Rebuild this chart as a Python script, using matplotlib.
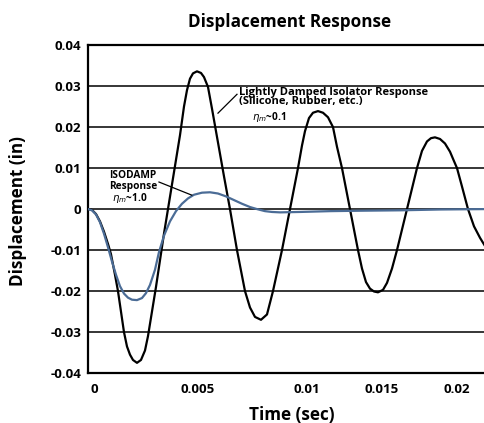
import matplotlib
matplotlib.use("Agg")
import matplotlib.pyplot as plt

plt.rcParams['font.family'] = ['Open Sans', 'DejaVu Sans']

# ---- data (time in s, displacement in in) ----
black_t = [0, 0.0002, 0.0004, 0.0006, 0.0008, 0.0010, 0.00115, 0.00135, 0.0015, 0.00165,
           0.0018, 0.00195, 0.0021, 0.00225, 0.00245, 0.00265, 0.00285, 0.0030, 0.0032, 0.0034,
           0.0036, 0.0038, 0.0040, 0.0042, 0.0044, 0.0046, 0.0048, 0.00495, 0.0051, 0.00525,
           0.00545, 0.00565, 0.0058, 0.0060, 0.0062, 0.0064, 0.0066, 0.0068, 0.0071, 0.00745,
           0.00785, 0.0081, 0.00835, 0.00865, 0.00895, 0.00925, 0.0097, 0.0101, 0.0103, 0.0105,
           0.0107, 0.01085, 0.01105, 0.01125, 0.0115, 0.01175, 0.0120, 0.01225, 0.01245, 0.0127,
           0.0129, 0.0131, 0.0133, 0.0135, 0.0137, 0.0139, 0.0141, 0.0143, 0.0145, 0.01475,
           0.01495, 0.0152, 0.01545, 0.0157, 0.01595, 0.0162, 0.01645, 0.0167, 0.01695, 0.01715,
           0.01735, 0.0176, 0.01785, 0.0181, 0.0183, 0.01845, 0.0187, 0.0190, 0.0193, 0.0196,
           0.01985]
black_d = [0, -0.0002, -0.0012, -0.003, -0.0055, -0.0085, -0.011, -0.016, -0.020, -0.025,
           -0.030, -0.0335, -0.0355, -0.0368, -0.0375, -0.0368, -0.0345, -0.031, -0.025, -0.019,
           -0.0125, -0.006, 0.0, 0.006, 0.012, 0.018, 0.025, 0.029, 0.0318, 0.0331,
           0.0336, 0.0332, 0.0322, 0.0298, 0.0245, 0.019, 0.0135, 0.008, 0.0, -0.010,
           -0.020, -0.024, -0.0263, -0.027, -0.0257, -0.020, -0.010, 0.0, 0.005, 0.010,
           0.0155, 0.019, 0.0222, 0.0235, 0.0239, 0.0235, 0.0224, 0.020, 0.0152, 0.010,
           0.005, 0.0, -0.005, -0.010, -0.0145, -0.0178, -0.0194, -0.0201, -0.0203, -0.0197,
           -0.0180, -0.0145, -0.010, -0.005, 0.0, 0.005, 0.010, 0.0142, 0.0165, 0.0173,
           0.0175, 0.0171, 0.0160, 0.0140, 0.0117, 0.0100, 0.0055, 0.0, -0.0042, -0.0070,
           -0.0090]

blue_t = [0, 0.0002, 0.0004, 0.0006, 0.0008, 0.0010, 0.0012, 0.0014, 0.0016, 0.0018,
          0.0020, 0.0022, 0.00245, 0.0027, 0.0029, 0.0031, 0.00335, 0.00355, 0.0038, 0.0041,
          0.0044, 0.0047, 0.0050, 0.0053, 0.0057, 0.0061, 0.0065, 0.0069, 0.0073, 0.0077,
          0.0081, 0.00845, 0.00885, 0.0092, 0.0096, 0.0106, 0.0121, 0.0136, 0.0156, 0.0176,
          0.01985]
blue_d = [0, -0.0003, -0.0013, -0.0032, -0.006, -0.0093, -0.0128, -0.016, -0.0188, -0.0206,
          -0.0216, -0.0221, -0.0222, -0.0217, -0.0205, -0.0185, -0.0148, -0.0105, -0.0065, -0.003,
          -0.0005, 0.0013, 0.0026, 0.0035, 0.0040, 0.0041, 0.0038, 0.0031, 0.0022, 0.0013,
          0.0005, 0.0, -0.0005, -0.0007, -0.0008, -0.0007, -0.0005, -0.0004, -0.0003, -0.0001,
          0.0]

xtick_pos = [0.0003, 0.0055, 0.01095, 0.0147, 0.01845]
xtick_labels = ['0', '0.005', '0.01', '0.015', '0.02']
ytick_vals = [-0.04, -0.03, -0.02, -0.01, 0, 0.01, 0.02, 0.03, 0.04]
ytick_labels = ['-0.04', '-0.03', '-0.02', '-0.01', '0', '0.01', '0.02', '0.03', '0.04']

fig = plt.figure(figsize=(4.85, 4.23), dpi=100)
ax = fig.add_axes([0.1814, 0.118, 0.8186, 0.7754])

for v in ytick_vals[1:-1]:
    ax.axhline(v, color='black', lw=1.1, zorder=1)

ax.plot(black_t, black_d, color='black', lw=1.6, zorder=3, solid_joinstyle='round')
ax.plot(blue_t, blue_d, color='#4b6c96', lw=1.6, zorder=4, solid_joinstyle='round')

ax.set_xlim(0, 0.01985)
ax.set_ylim(-0.04, 0.04)
ax.set_xticks(xtick_pos)
ax.set_xticklabels(xtick_labels, fontweight='bold', fontsize=9.5)
ax.set_yticks(ytick_vals)
ax.set_yticklabels(ytick_labels, fontweight='bold', fontsize=9.5)
ax.tick_params(axis='both', length=0)
ax.tick_params(axis='y', pad=5)
ax.tick_params(axis='x', pad=7)
for s in ['left', 'top', 'bottom']:
    ax.spines[s].set_linewidth(1.6)
ax.spines['right'].set_visible(False)

fig.text(0.598, 0.948, 'Displacement Response', ha='center', va='center',
         fontweight='bold', fontsize=12.3)
fig.text(0.602, 0.019, 'Time (sec)', ha='center', va='center',
         fontweight='bold', fontsize=12.3)
fig.text(0.037, 0.501, 'Displacement (in)', ha='center', va='center',
         rotation=90, fontweight='bold', fontsize=12.3)

# annotations
ax.text(0.00225, 0.0068, 'ISODAMP\nResponse', ha='center', va='center',
        fontweight='bold', fontsize=7.3, linespacing=0.95)
ax.text(0.0021, 0.0026, r'$\eta_{m}$~1.0', ha='center', va='center', fontweight='bold', fontsize=7.3)
ax.plot([0.00355, 0.00519], [0.0066, 0.0034], color='black', lw=0.9, zorder=5)

ax.text(0.00755, 0.0273, 'Lightly Damped Isolator Response\n(Silicone, Rubber, etc.)',
        ha='left', va='center', fontweight='bold', fontsize=8, linespacing=0.8)
ax.text(0.0082, 0.0224, r'$\eta_{m}$~0.1', ha='left', va='center', fontweight='bold', fontsize=7.3)
ax.plot([0.00745, 0.0065], [0.0280, 0.0234], color='black', lw=0.9, zorder=5)

fig.savefig('out.png', dpi=100)
